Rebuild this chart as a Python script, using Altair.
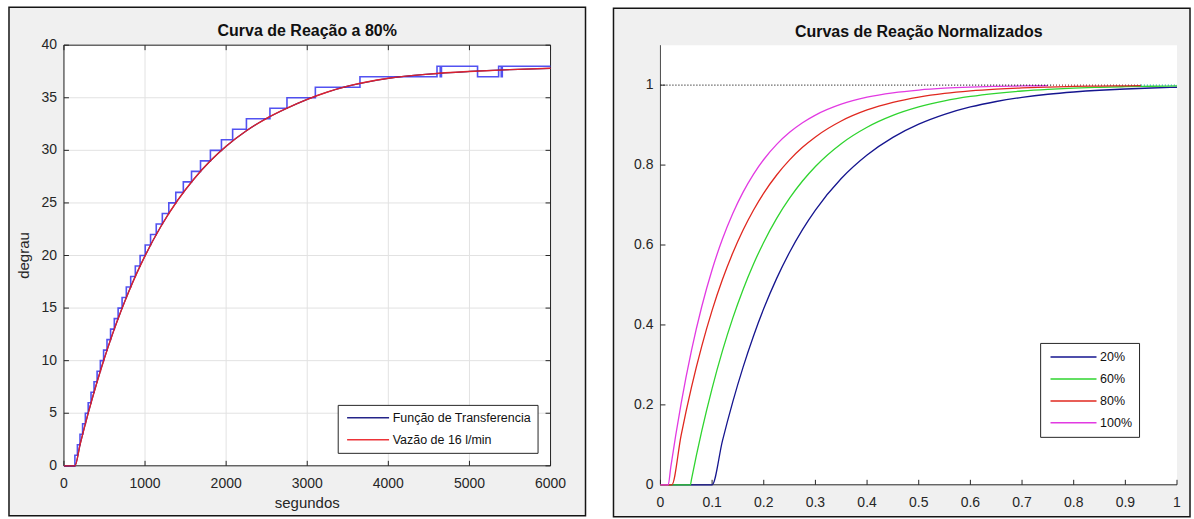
import altair as alt
import pandas as pd

FONT = "Liberation Sans"
AX = "#262626"
PANEL = "#f0f0f0"

# ---------------- left panel ----------------
left_title = "Curva de Reação a 80%"
left_xlabel = "segundos"
left_ylabel = "degrau"
left_xticks = [0, 1000, 2000, 3000, 4000, 5000, 6000]
left_yticks = [0, 5, 10, 15, 20, 25, 30, 35, 40]
left_series = ["Função de Transferencia", "Vazão de 16 l/min"]
left_colors = ["#12127f", "#ec2228"]

# measured (quantised) signal, step times and levels
step_t = [0, 135, 166, 198, 230, 264, 299, 334, 371, 409, 449,
          489, 531, 575, 621, 668, 717, 769, 823, 880, 939,
          1002, 1068, 1138, 1213, 1293, 1379, 1472, 1573, 1684, 1806,
          1942, 2080, 2250, 2540, 2750, 3100, 3650, 4600,
          4640, 4655, 5100, 5360, 5392, 5405, 6000]
step_y = [0, 1, 2, 3, 4, 5, 6, 7, 8, 9, 10,
          11, 12, 13, 14, 15, 16, 17, 18, 19, 20,
          21, 22, 23, 24, 25, 26, 27, 28, 29, 30,
          31, 32, 33, 34, 35, 36, 37, 38,
          37, 38, 37, 38, 37, 38, 38]

curve_t = [0, 135, 200, 300, 400, 500, 600, 700, 800, 900, 1000, 1200, 1400,
           1600, 1800, 2000, 2250, 2500, 2750, 3000, 3250, 3500, 4000, 4500,
           5000, 5500, 6000]
tf_y = [0, 0, 2.07, 5.04, 7.76, 10.26, 12.55, 14.65, 16.58, 18.35, 19.97, 22.83,
        25.23, 27.25, 28.96, 30.39, 31.86, 33.05, 34.01, 34.85, 35.55, 36.1,
        36.85, 37.25, 37.5, 37.68, 37.8]
vazao_y = [0, 0, 2.07, 5.04, 7.76, 10.26, 12.55, 14.65, 16.58, 18.35, 19.97, 22.83,
           25.23, 27.25, 28.96, 30.39, 31.86, 33.05, 34.01, 34.85, 35.55, 36.1,
           36.85, 37.25, 37.5, 37.68, 37.8]

# ---------------- right panel ----------------
right_title = "Curvas de Reação Normalizados"
right_xticks = [0, 0.1, 0.2, 0.3, 0.4, 0.5, 0.6, 0.7, 0.8, 0.9, 1]
right_yticks = [0, 0.2, 0.4, 0.6, 0.8, 1]
right_series = ["20%", "60%", "80%", "100%"]
right_colors = ["#15158f", "#2fd42f", "#e0281f", "#e23ae2"]

x20 = [0, 0.1, 0.12, 0.14, 0.16, 0.18, 0.2, 0.225, 0.25, 0.275, 0.3, 0.35, 0.4,
       0.45, 0.5, 0.55, 0.6, 0.65, 0.7, 0.75, 0.8, 0.85, 0.9, 0.95, 1.0]
y20 = [0, 0, 0.1098, 0.2075, 0.2945, 0.3719, 0.4409, 0.5165, 0.5819, 0.6385,
       0.6874, 0.7663, 0.8252, 0.8693, 0.9023, 0.9269, 0.9454, 0.9591, 0.9694,
       0.9772, 0.9829, 0.9872, 0.9904, 0.9929, 0.9947]
x60 = [0, 0.058, 0.06, 0.08, 0.1, 0.12, 0.14, 0.16, 0.18, 0.2, 0.225, 0.25, 0.275,
       0.3, 0.35, 0.4, 0.45, 0.5, 0.55, 0.6, 0.65, 0.7, 0.75, 0.8, 0.85, 0.9,
       0.95, 1.0]
y60 = [0, 0, 0.0131, 0.1347, 0.2414, 0.335, 0.417, 0.4889, 0.5519, 0.6071,
       0.6667, 0.7172, 0.7601, 0.7965, 0.8535, 0.8946, 0.9242, 0.9454, 0.9607,
       0.9717, 0.9796, 0.9854, 0.9895, 0.9924, 0.9945, 0.9961, 0.9972, 0.998]
x80 = [0, 0.022, 0.04, 0.06, 0.08, 0.1, 0.12, 0.14, 0.16, 0.18, 0.2, 0.225, 0.25,
       0.275, 0.3, 0.35, 0.4, 0.45, 0.5, 0.55, 0.6, 0.65, 0.7, 0.75, 0.8, 0.85,
       0.9, 0.93]
y80 = [0, 0, 0.124, 0.2438, 0.3472, 0.4365, 0.5135, 0.58, 0.6375, 0.6871, 0.7299,
       0.7752, 0.813, 0.8444, 0.8705, 0.9103, 0.9379, 0.957, 0.9702, 0.9794,
       0.9857, 0.9901, 0.9932, 0.9953, 0.9967, 0.9977, 0.9984, 0.9987]
x100 = [0, 0.015, 0.02, 0.04, 0.06, 0.08, 0.1, 0.12, 0.14, 0.16, 0.18, 0.2, 0.225,
        0.25, 0.275, 0.3, 0.35, 0.4, 0.45, 0.5, 0.55, 0.6, 0.65, 0.7, 0.75]
y100 = [0, 0, 0.0444, 0.2033, 0.3357, 0.4462, 0.5382, 0.615, 0.679, 0.7324,
        0.7769, 0.814, 0.8518, 0.8819, 0.9059, 0.9251, 0.9524, 0.9698, 0.9808,
        0.9878, 0.9923, 0.9951, 0.9969, 0.998, 0.9987]

# steady-state dotted reference at 1
ref_x0 = [0, 0.76, 0.93]
ref_x1 = [0.76, 0.93, 1.0]
ref_y = [1, 1, 1]
ref_colors = ["#222222", "#8a3a3a", "#20a0a0"]

# ---------------- layout ----------------
LW, LH = 487, 421
RW, RH = 517, 440
TICK = 5
LABEL_GAP_X = 18   # tick label centre below the x axis line
LABEL_GAP_Y = 7    # tick label right edge left of the y axis line
one = pd.DataFrame({"k": [0]})


def rect(x1, x2, y1, y2, fill, stroke=None, sw=0):
    kw = dict(fill=fill, strokeWidth=sw)
    if stroke:
        kw["stroke"] = stroke
    return alt.Chart(one).mark_rect(**kw).encode(
        x=alt.value(x1), x2=alt.value(x2), y=alt.value(y1), y2=alt.value(y2))


def legend(x, y, pad, path, offset):
    return alt.Legend(title=None, orient="none", legendX=x, legendY=y, padding=pad,
                      strokeColor=AX, fillColor="white", symbolType=path,
                      symbolSize=144, symbolStrokeWidth=1.5, labelFontSize=12.5,
                      labelFont=FONT, labelColor="#111111", rowPadding=8,
                      labelOffset=offset, labelLimit=300, cornerRadius=0)


def ticks_x(values, scale, h, both):
    base = alt.Chart(pd.DataFrame({"tv": values}))
    out = [base.mark_rule(color=AX, strokeWidth=1).encode(
        x=alt.X("tv:Q", scale=scale, axis=None), y=alt.value(h), y2=alt.value(h - TICK))]
    if both:
        out.append(base.mark_rule(color=AX, strokeWidth=1).encode(
            x=alt.X("tv:Q", scale=scale, axis=None), y=alt.value(0), y2=alt.value(TICK)))
    return out


def ticks_y(values, scale, w, both):
    base = alt.Chart(pd.DataFrame({"tv": values}))
    out = [base.mark_rule(color=AX, strokeWidth=1).encode(
        y=alt.Y("tv:Q", scale=scale, axis=None), x=alt.value(0), x2=alt.value(TICK))]
    if both:
        out.append(base.mark_rule(color=AX, strokeWidth=1).encode(
            y=alt.Y("tv:Q", scale=scale, axis=None), x=alt.value(w), x2=alt.value(w - TICK)))
    return out


def labels_x(values, scale, h, fmt):
    return alt.Chart(pd.DataFrame({"tv": values})).mark_text(
        font=FONT, fontSize=14, color=AX, align="center", baseline="middle").encode(
        x=alt.X("tv:Q", scale=scale, axis=None), y=alt.value(h + LABEL_GAP_X),
        text=alt.Text("tv:Q", format=fmt))


def labels_y(values, scale, fmt):
    return alt.Chart(pd.DataFrame({"tv": values})).mark_text(
        font=FONT, fontSize=14, color=AX, align="right", baseline="middle").encode(
        y=alt.Y("tv:Q", scale=scale, axis=None), x=alt.value(-LABEL_GAP_Y),
        text=alt.Text("tv:Q", format=fmt))


def label_text(txt, x, y, angle=0):
    kw = dict(font=FONT, fontSize=15, color=AX, align="center", baseline="middle")
    if angle:
        kw["angle"] = angle
    return alt.Chart(one).mark_text(**kw).encode(
        x=alt.value(x), y=alt.value(y), text=alt.value(txt))


# ---------------- left chart ----------------
xs_l = alt.Scale(domain=[0, 6000], nice=False, zero=False)
ys_l = alt.Scale(domain=[0, 40], nice=False, zero=False)

grid_x = alt.Chart(pd.DataFrame({"t": left_xticks})).mark_rule(
    color="#e2e2e2", strokeWidth=1).encode(
    x=alt.X("t:Q", scale=xs_l, axis=None), y=alt.value(0), y2=alt.value(LH))
grid_y = alt.Chart(pd.DataFrame({"v": left_yticks})).mark_rule(
    color="#e2e2e2", strokeWidth=1).encode(
    y=alt.Y("v:Q", scale=ys_l, axis=None), x=alt.value(0), x2=alt.value(LW))

step_layer = alt.Chart(pd.DataFrame({"t": step_t, "v": step_y})).mark_line(
    interpolate="step-after", color="#3434ee", strokeWidth=1.6, opacity=0.85).encode(
    x=alt.X("t:Q", scale=xs_l, axis=None), y=alt.Y("v:Q", scale=ys_l, axis=None))

n = len(curve_t)
left_df = pd.DataFrame({
    "t": curve_t + curve_t,
    "v": tf_y + vazao_y,
    "serie_l": [left_series[0]] * n + [left_series[1]] * n,
})
lcolor = alt.Color("serie_l:N", scale=alt.Scale(domain=left_series, range=left_colors),
                   legend=legend(274, 360, 6, "M-0.6,0H6.4", 35))
tf_layer = alt.Chart(left_df).transform_filter(
    alt.datum.serie_l == left_series[0]).mark_line(
    interpolate="monotone", strokeWidth=1.2).encode(
    x=alt.X("t:Q", scale=xs_l, axis=None), y=alt.Y("v:Q", scale=ys_l, axis=None),
    color=lcolor)
vz_layer = alt.Chart(left_df).transform_filter(
    alt.datum.serie_l == left_series[1]).mark_line(
    interpolate="monotone", strokeWidth=1.4, opacity=0.92).encode(
    x=alt.X("t:Q", scale=xs_l, axis=None), y=alt.Y("v:Q", scale=ys_l, axis=None),
    color=lcolor)

left = alt.layer(
    rect(-55, LW + 35, -38, LH + 50, PANEL, "#151515", 1.5),
    rect(0, LW, 0, LH, "white"),
    grid_x, grid_y,
    rect(0, LW, 0, LH, "transparent", AX, 1),
    *ticks_x(left_xticks, xs_l, LH, True),
    *ticks_y(left_yticks, ys_l, LW, True),
    labels_x(left_xticks, xs_l, LH, "d"),
    labels_y(left_yticks, ys_l, "d"),
    label_text(left_xlabel, LW / 2, LH + 37),
    label_text(left_ylabel, -40, LH / 2, 270),
    step_layer, tf_layer, vz_layer,
).properties(
    width=LW, height=LH,
    title=alt.TitleParams(left_title, fontSize=16, fontWeight="bold", font=FONT,
                          color="#111111", anchor="middle", frame="group",
                          baseline="middle", offset=-41),
)

# ---------------- right chart ----------------
xs_r = alt.Scale(domain=[0, 1], nice=False, zero=False)
ys_r = alt.Scale(domain=[0, 1.1], nice=False, zero=False)

rows = []
for name, xs, ys in zip(right_series, [x20, x60, x80, x100], [y20, y60, y80, y100]):
    for a, b in zip(xs, ys):
        rows.append({"x": a, "y": b, "serie_r": name})
right_df = pd.DataFrame(rows)
rcolor = alt.Color("serie_r:N", scale=alt.Scale(domain=right_series, range=right_colors),
                   legend=legend(380, 298, 7, "M-0.6,0H7.07", 39))

curve_layers = []
for name in right_series:
    curve_layers.append(
        alt.Chart(right_df).transform_filter(alt.datum.serie_r == name).mark_line(
            interpolate="monotone", strokeWidth=1.3).encode(
            x=alt.X("x:Q", scale=xs_r, axis=None),
            y=alt.Y("y:Q", scale=ys_r, axis=None), color=rcolor))

ref_layers = []
for a, b, yv, c in zip(ref_x0, ref_x1, ref_y, ref_colors):
    ref_layers.append(
        alt.Chart(pd.DataFrame({"x0": [a], "x1": [b], "y": [yv]})).mark_rule(
            color=c, strokeWidth=1.4, strokeDash=[1, 2]).encode(
            x=alt.X("x0:Q", scale=xs_r, axis=None), x2="x1:Q",
            y=alt.Y("y:Q", scale=ys_r, axis=None)))

domain_r = [
    alt.Chart(one).mark_rule(color="#4a4a4a", strokeWidth=1).encode(
        x=alt.value(0), y=alt.value(0), y2=alt.value(RH)),
    alt.Chart(one).mark_rule(color=AX, strokeWidth=1).encode(
        x=alt.value(0), x2=alt.value(RW), y=alt.value(RH)),
]

right = alt.layer(
    rect(-47, RW + 13, -37, RH + 32, PANEL, "#151515", 1.5),
    rect(0, RW, 0, RH, "white"),
    *domain_r,
    *ticks_x(right_xticks, xs_r, RH, False),
    *ticks_y(right_yticks, ys_r, RW, False),
    labels_x(right_xticks, xs_r, RH, "~g"),
    labels_y(right_yticks, ys_r, "~g"),
    *curve_layers, *ref_layers,
).properties(
    width=RW, height=RH,
    title=alt.TitleParams(right_title, fontSize=16, fontWeight="bold", font=FONT,
                          color="#111111", anchor="middle", frame="group",
                          baseline="middle", offset=-41),
)

chart = alt.hconcat(left, right, spacing=26).resolve_scale(
    color="independent").properties(
    padding={"left": 8, "top": 6, "right": 3, "bottom": 1},
    background="white",
).configure(font=FONT).configure_view(stroke=None)

chart.save("out.html", embed_options={"renderer": "svg", "actions": False})
